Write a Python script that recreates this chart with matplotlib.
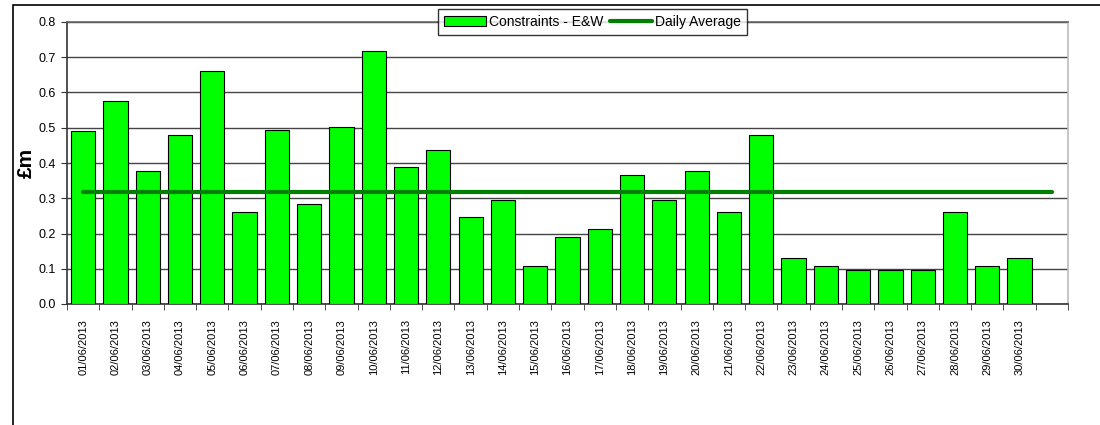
import matplotlib
matplotlib.use("Agg")
import matplotlib.pyplot as plt
import numpy as np
from matplotlib.patches import Rectangle

plt.rcParams['font.family'] = ['Liberation Sans', 'DejaVu Sans']

dates = ["%02d/06/2013" % d for d in range(1, 31)]
constraints = [0.49, 0.575, 0.376, 0.48, 0.66, 0.26, 0.495, 0.284, 0.503, 0.717,
               0.388, 0.436, 0.248, 0.295, 0.107, 0.189, 0.212, 0.366, 0.295, 0.377,
               0.26, 0.48, 0.13, 0.107, 0.096, 0.096, 0.096, 0.26, 0.107, 0.13]
daily_avg = 0.319

fig = plt.figure(figsize=(11, 4.25), dpi=100)
# outer chart border
fig.patches.append(Rectangle((13 / 1100, -0.1), 1.2, 1 - 5 / 425 + 0.1,
                             transform=fig.transFigure, fill=False,
                             edgecolor="black", lw=1.2, zorder=0))

ax = fig.add_axes([67 / 1100, 121 / 425, 1001 / 1100, 282 / 425])
nslots = len(dates) + 1
x = np.arange(len(dates))
bars = ax.bar(x, constraints, width=0.75, color="#00FF00", edgecolor="black",
              linewidth=0.8, label="Constraints - E&W", zorder=3)
line, = ax.plot([0, nslots - 1], [daily_avg, daily_avg], color="#008000", lw=3,
                label="Daily Average", zorder=4, solid_capstyle="round")

ax.set_xlim(-0.5, nslots - 0.5)
ax.set_ylim(0, 0.8)
ax.set_yticks(np.arange(0, 0.81, 0.1))
ax.set_yticklabels(["%.1f" % v for v in np.arange(0, 0.81, 0.1)], fontsize=9)
ax.yaxis.grid(True, color="#444444", lw=1, zorder=0)
ax.set_axisbelow(True)

ax.set_xticks(x)
ax.set_xticklabels(dates, rotation=90, fontsize=8)
ax.set_xticks(np.arange(-0.5, nslots, 1), minor=True)
ax.tick_params(axis="x", which="major", length=0, pad=11)
ax.tick_params(axis="x", which="minor", length=4, direction="out", color="#333333")
ax.tick_params(axis="y", length=4, direction="out", color="#333333", pad=4)

ax.spines["left"].set_color("#333333")
ax.spines["bottom"].set_color("#333333")
ax.spines["top"].set_color("#666666")
ax.spines["right"].set_color("#bbbbbb")
for s in ax.spines.values():
    s.set_linewidth(1.2)

ax.set_ylabel("£m", fontsize=15, fontweight="bold", labelpad=2)

leg = ax.legend([bars, line], ["Constraints - E&W", "Daily Average"],
                loc="center", bbox_to_anchor=(0.525, 1.0), ncol=2, fontsize=10,
                frameon=True, fancybox=False, edgecolor="black",
                handlelength=3, handletextpad=0.2, columnspacing=0.5,
                borderpad=0.45)
leg.get_frame().set_linewidth(1)
leg.set_zorder(10)

fig.savefig("out.png", dpi=100)
